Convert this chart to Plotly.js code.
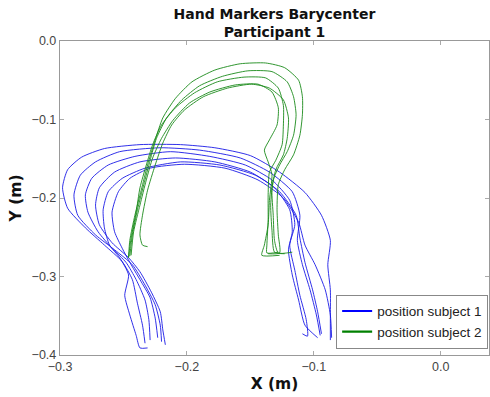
<!DOCTYPE html>
<html>
<head>
<meta charset="utf-8">
<script src="https://cdn.plot.ly/plotly-3.0.1.min.js"></script>
<style>html,body{margin:0;padding:0;background:#fff;}#chart{width:490px;height:397px;}</style>
</head>
<body>
<div id="chart"></div>
<script>
// Subject 1 runs (blue)
const s1r1x = [-0.233,-0.235,-0.239,-0.243,-0.251,-0.265,-0.280,-0.294,-0.298,-0.294,-0.283,-0.265,-0.237,-0.205,-0.178,-0.150,-0.127,-0.107,-0.094,-0.087,-0.089,-0.087,-0.087,-0.087];
const s1r1y = [-0.385,-0.362,-0.334,-0.304,-0.281,-0.260,-0.238,-0.213,-0.187,-0.164,-0.148,-0.137,-0.132,-0.132,-0.136,-0.146,-0.167,-0.193,-0.222,-0.254,-0.285,-0.317,-0.349,-0.381];
const s1r2x = [-0.220,-0.221,-0.225,-0.233,-0.243,-0.257,-0.272,-0.286,-0.289,-0.284,-0.272,-0.253,-0.221,-0.190,-0.158,-0.135,-0.117,-0.111,-0.113,-0.109,-0.103,-0.098,-0.095];
const s1r2y = [-0.383,-0.362,-0.336,-0.311,-0.285,-0.266,-0.247,-0.222,-0.196,-0.171,-0.154,-0.141,-0.136,-0.139,-0.149,-0.167,-0.192,-0.222,-0.254,-0.285,-0.317,-0.349,-0.375];
const s1r3x = [-0.229,-0.230,-0.233,-0.240,-0.248,-0.259,-0.270,-0.278,-0.280,-0.275,-0.262,-0.241,-0.213,-0.182,-0.154,-0.133,-0.119,-0.115,-0.119,-0.115,-0.111,-0.106,-0.105,-0.109];
const s1r3y = [-0.381,-0.355,-0.330,-0.304,-0.282,-0.264,-0.243,-0.218,-0.196,-0.175,-0.158,-0.147,-0.141,-0.147,-0.158,-0.177,-0.203,-0.234,-0.260,-0.292,-0.324,-0.355,-0.376,-0.373];
const s1r4x = [-0.217,-0.219,-0.221,-0.228,-0.237,-0.246,-0.259,-0.269,-0.272,-0.269,-0.257,-0.237,-0.209,-0.178,-0.150,-0.131,-0.119,-0.117,-0.120,-0.117,-0.112,-0.107,-0.097];
const s1r4y = [-0.387,-0.368,-0.345,-0.320,-0.294,-0.276,-0.257,-0.234,-0.209,-0.187,-0.167,-0.154,-0.149,-0.154,-0.167,-0.187,-0.215,-0.243,-0.266,-0.298,-0.330,-0.362,-0.378];
const s1r5x = [-0.231,-0.237,-0.240,-0.245,-0.249,-0.246,-0.253,-0.261,-0.265,-0.266,-0.262,-0.251,-0.233,-0.205,-0.174,-0.146,-0.127,-0.114,-0.111,-0.107,-0.101,-0.097,-0.094];
const s1r5y = [-0.391,-0.391,-0.375,-0.349,-0.324,-0.298,-0.276,-0.260,-0.238,-0.215,-0.192,-0.175,-0.162,-0.154,-0.158,-0.171,-0.192,-0.222,-0.251,-0.282,-0.317,-0.345,-0.373];
const s1r6x = [-0.223,-0.225,-0.229,-0.237,-0.245,-0.251,-0.257,-0.259,-0.254,-0.245,-0.229,-0.202,-0.170,-0.144,-0.124,-0.112,-0.107,-0.099,-0.091,-0.087,-0.086];
const s1r6y = [-0.378,-0.353,-0.327,-0.304,-0.282,-0.264,-0.243,-0.218,-0.192,-0.175,-0.162,-0.157,-0.162,-0.177,-0.200,-0.231,-0.260,-0.285,-0.317,-0.349,-0.378];

// Subject 2 runs (green)
const s2r1x = [-0.246,-0.245,-0.241,-0.236,-0.231,-0.225,-0.219,-0.209,-0.196,-0.178,-0.158,-0.138,-0.123,-0.112,-0.109,-0.109,-0.111,-0.116,-0.123,-0.128,-0.129,-0.128,-0.127,-0.136];
const s2r1y = [-0.276,-0.254,-0.222,-0.190,-0.158,-0.126,-0.098,-0.073,-0.052,-0.037,-0.029,-0.028,-0.034,-0.050,-0.071,-0.094,-0.120,-0.145,-0.164,-0.183,-0.215,-0.247,-0.270,-0.271];
const s2r2x = [-0.245,-0.243,-0.239,-0.234,-0.229,-0.224,-0.216,-0.204,-0.190,-0.172,-0.152,-0.133,-0.121,-0.116,-0.114,-0.116,-0.121,-0.127,-0.132,-0.134,-0.133,-0.131,-0.123];
const s2r2y = [-0.274,-0.247,-0.215,-0.183,-0.152,-0.124,-0.098,-0.075,-0.057,-0.045,-0.038,-0.039,-0.052,-0.071,-0.094,-0.120,-0.141,-0.158,-0.177,-0.209,-0.241,-0.269,-0.271];
const s2r3x = [-0.246,-0.244,-0.240,-0.237,-0.232,-0.227,-0.220,-0.209,-0.194,-0.176,-0.155,-0.138,-0.128,-0.124,-0.124,-0.125,-0.130,-0.135,-0.136,-0.136,-0.137,-0.137,-0.128];
const s2r3y = [-0.276,-0.251,-0.218,-0.187,-0.158,-0.132,-0.107,-0.085,-0.066,-0.052,-0.046,-0.047,-0.060,-0.082,-0.107,-0.132,-0.152,-0.167,-0.196,-0.228,-0.260,-0.270,-0.269];
const s2r4x = [-0.244,-0.242,-0.237,-0.232,-0.227,-0.220,-0.211,-0.198,-0.182,-0.162,-0.144,-0.133,-0.128,-0.129,-0.135,-0.139,-0.136,-0.133,-0.135,-0.136,-0.139,-0.141,-0.127];
const s2r4y = [-0.273,-0.243,-0.209,-0.177,-0.149,-0.124,-0.101,-0.079,-0.065,-0.056,-0.055,-0.065,-0.085,-0.107,-0.126,-0.139,-0.154,-0.170,-0.203,-0.234,-0.260,-0.273,-0.273];
const s2r5x = [-0.231,-0.235,-0.237,-0.235,-0.231,-0.225,-0.219,-0.212,-0.202,-0.187,-0.168,-0.149,-0.135,-0.124,-0.120,-0.121,-0.124,-0.130,-0.133,-0.132,-0.131,-0.128,-0.117];
const s2r5y = [-0.262,-0.260,-0.247,-0.222,-0.190,-0.158,-0.130,-0.107,-0.088,-0.071,-0.060,-0.055,-0.060,-0.075,-0.098,-0.124,-0.145,-0.164,-0.190,-0.222,-0.254,-0.270,-0.269];

const seriesNames = ['position subject 1', 'position subject 2'];
const xTicks = [-0.3, -0.2, -0.1, 0.0];
const yTicks = [-0.4, -0.3, -0.2, -0.1, 0.0];

const blue = '#1a1ae6';
const green = '#1a8a1a';

const s1 = [[s1r1x,s1r1y],[s1r2x,s1r2y],[s1r3x,s1r3y],[s1r4x,s1r4y],[s1r5x,s1r5y],[s1r6x,s1r6y]];
const s2 = [[s2r1x,s2r1y],[s2r2x,s2r2y],[s2r3x,s2r3y],[s2r4x,s2r4y],[s2r5x,s2r5y]];

const traces = [];
s1.forEach(r => traces.push({x:r[0], y:r[1], mode:'lines', type:'scatter', showlegend:false, hoverinfo:'skip',
  line:{color:blue, width:0.9, shape:'spline', smoothing:0.6}}));
s2.forEach(r => traces.push({x:r[0], y:r[1], mode:'lines', type:'scatter', showlegend:false, hoverinfo:'skip',
  line:{color:green, width:0.9, shape:'spline', smoothing:0.6}}));
traces.push({x:[null], y:[null], mode:'lines', type:'scatter', name:seriesNames[0], line:{color:'#0000ff', width:2.2}});
traces.push({x:[null], y:[null], mode:'lines', type:'scatter', name:seriesNames[1], line:{color:'#008000', width:2.2}});

const axisCommon = {
  showgrid:false, zeroline:false, showline:true, linecolor:'#999', linewidth:1.2, mirror:'ticks',
  ticks:'inside', ticklen:4, tickcolor:'#aaa', tickformat:'.1f',
  tickfont:{family:'Liberation Sans, Arial, sans-serif', size:12.5, color:'#444'}
};

const layout = {
  width:490, height:397,
  margin:{l:60, r:1, t:41, b:42, pad:0},
  paper_bgcolor:'#fff', plot_bgcolor:'#fff',
  title:{text:'<b>Hand Markers Barycenter<br>Participant 1</b>', font:{family:'DejaVu Sans, sans-serif', size:14, color:'#111'},
    x:0.5, xanchor:'center', xref:'paper', y:1, yanchor:'bottom', yref:'paper', pad:{b:22}},
  xaxis:Object.assign({}, axisCommon, {range:[-0.3, 0.038], tickvals:xTicks,
    title:{text:'<b>X (m)</b>', font:{family:'DejaVu Sans, sans-serif', size:15.5, color:'#111'}, standoff:5}}),
  yaxis:Object.assign({}, axisCommon, {range:[-0.4, 0], tickvals:yTicks,
    title:{text:'<b>Y (m)</b>', font:{family:'DejaVu Sans, sans-serif', size:15.5, color:'#111'}, standoff:6}}),
  showlegend:true,
  legend:{x:0.998, xanchor:'right', y:0.02, yanchor:'bottom', bgcolor:'#fff', bordercolor:'#888', borderwidth:1,
    font:{family:'Liberation Sans, Arial, sans-serif', size:13.5, color:'#222'}, tracegroupgap:0, itemwidth:30}
};

Plotly.newPlot('chart', traces, layout, {staticPlot:true, displayModeBar:false});
</script>
</body>
</html>
